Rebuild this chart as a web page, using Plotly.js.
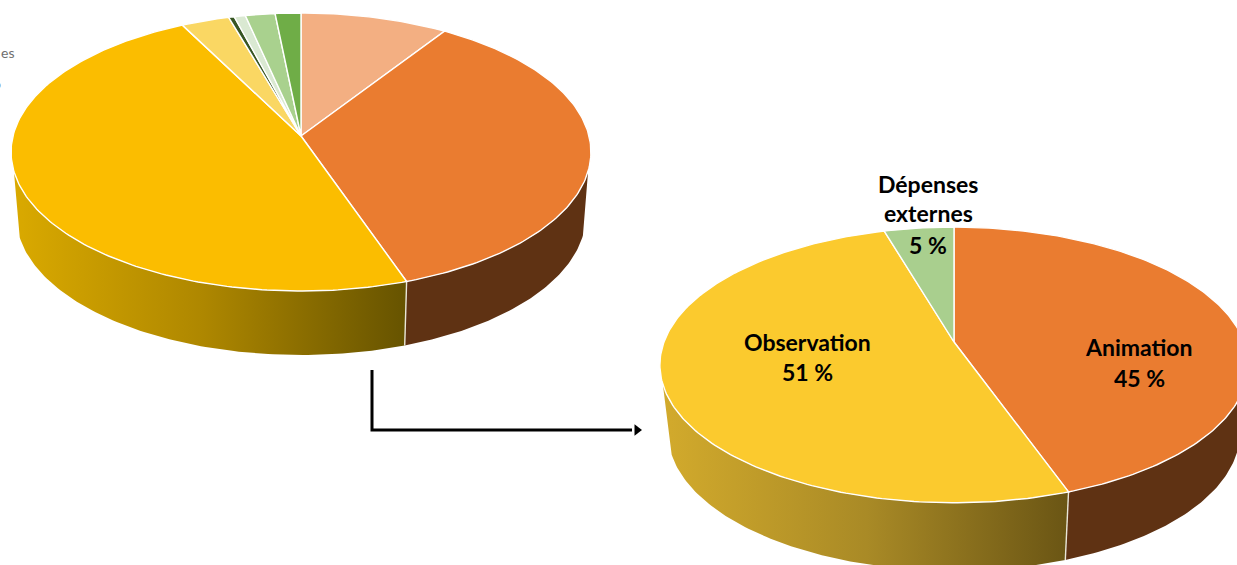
<!DOCTYPE html>
<html>
<head>
<meta charset="utf-8">
<script src="https://cdn.plot.ly/plotly-3.0.1.min.js"></script>
<style>html,body{margin:0;padding:0;background:#fff;overflow:hidden}#chart{width:1237px;height:565px}</style>
</head>
<body>
<div id="chart"></div>
<script>
// Values (percent), clockwise from 12 o'clock
var leftValues = [9.2, 35.5, 47.8, 3.0, 0.35, 0.7, 1.85, 1.6];
var leftColors = ['#F3AF82', '#EA7C30', '#FBBD00', '#FAD763', '#375623', '#DAE9D2', '#A9D18E', '#6FAD47'];
var rightNames = ['Animation', 'Observation', 'Dépenses'];
var rightValues = [44.6, 50.9, 4.5];
var rightColors = ['#EA7C30', '#FBCA2E', '#A9CF8E'];
var clippedLegendText = ['es', 'o'];

var sideOrange = '#5F3213';
var leftGeom = {cx: 301, ay: 136, A: 288, B: 137.2, k: 0.115, depth: 64, shrink: 0.982, from: 0,
  grad: [[0, '#DDAC00'], [0.5, '#AE8700'], [1, '#665300']], side: {1: 'orange', 2: 'grad'}, seamIndex: 1};
var rightGeom = {cx: 954, ay: 342, A: 290, B: 134, k: 0.1667, depth: 68, shrink: 0.972, from: 665,
  grad: [[0, '#D2AA2C'], [0.5, '#A98A26'], [1, '#6A5514']], side: {0: 'orange', 1: 'grad'}, seamIndex: 0};

function rim(g, pct) {
  var t = pct / 100 * 2 * Math.PI, X = Math.sin(t), Y = Math.cos(t), w = 1 + g.k * Y;
  return [g.cx + g.A * X / w, g.ay - g.B * Y / w];
}
function lower(g, p) { return [g.cx + (p[0] - g.cx) * g.shrink, p[1] + g.depth]; }
function arc(g, a, b) {
  var n = Math.max(2, Math.ceil((b - a) * 4)), pts = [];
  for (var i = 0; i <= n; i++) pts.push(rim(g, a + (b - a) * i / n));
  return pts;
}
// the part of the rim that has a visible side wall
function wallLimits(g) {
  var e = Math.acos(-g.k) / (2 * Math.PI) * 100 + 2.2;
  return [e, 100 - e];
}
var traces = [];
function addPie(values, colors, g) {
  var acc = 0, tops = [], sides = [], seam = [], lim = wallLimits(g);
  values.forEach(function (v, i) {
    var pts = arc(g, acc, acc + v);
    var topPoly = [[g.cx, g.ay]].concat(pts).concat([[g.cx, g.ay]]);
    tops.push({
      type: 'scatter', mode: 'lines', x: topPoly.map(function (p) { return p[0]; }), y: topPoly.map(function (p) { return p[1]; }),
      fill: 'toself', fillcolor: colors[i], line: {color: '#FFFFFF', width: 1.4}, hoverinfo: 'skip', showlegend: false
    });
    if (g.side[i]) {
      var a = Math.max(acc, lim[0]), b = Math.min(acc + v, lim[1]);
      var wallRim = arc(g, a, b);
      var bottom = wallRim.map(function (p) { return lower(g, p); }).reverse();
      var poly = wallRim.concat(bottom);
      poly.push(wallRim[0]);
      var tr = {
        type: 'scatter', mode: 'lines', x: poly.map(function (p) { return p[0]; }), y: poly.map(function (p) { return p[1]; }),
        fill: 'toself', line: {width: 0}, hoverinfo: 'skip', showlegend: false
      };
      if (g.side[i] === 'orange') tr.fillcolor = sideOrange;
      else tr.fillgradient = {type: 'horizontal', colorscale: g.grad, start: g.from, stop: rim(g, acc)[0]};
      sides.push(tr);
    }
    if (i === g.seamIndex) {
      var e = pts[pts.length - 1], f = lower(g, e);
      seam.push({type: 'scatter', mode: 'lines', x: [e[0], f[0]], y: [e[1], f[1]],
        line: {color: '#E9E6D8', width: 1.4}, hoverinfo: 'skip', showlegend: false});
    }
    acc += v;
  });
  traces = traces.concat(sides, seam, tops);
}
addPie(leftValues, leftColors, leftGeom);
addPie(rightValues, rightColors, rightGeom);

// Connector arrow
var arrowX = [372, 372, 632];
var arrowY = [370, 430, 430];
traces.push({type: 'scatter', mode: 'lines', x: arrowX, y: arrowY, line: {color: '#000', width: 3}, hoverinfo: 'skip', showlegend: false});
traces.push({type: 'scatter', mode: 'markers', x: [637], y: [430], marker: {symbol: 'triangle-right', size: 10, color: '#000'}, hoverinfo: 'skip', showlegend: false});

function lab(text, x, y) {
  return {text: '<b>' + text + '</b>', x: x, y: y, xref: 'x', yref: 'y', showarrow: false, xanchor: 'center', yanchor: 'middle',
    font: {family: 'Lato, sans-serif', size: 23, color: '#000'}};
}
function pct(v) { return Math.round(v) + ' %'; }
function small(text, x, y) {
  return {text: text, x: x, y: y, xref: 'x', yref: 'y', showarrow: false, xanchor: 'right', yanchor: 'middle',
    font: {family: 'Lato, sans-serif', size: 14, color: '#6F6F6F'}};
}
var annotations = [
  lab(rightNames[2], 928, 184),
  lab('externes', 928, 213),
  lab(pct(rightValues[2]), 928, 245),
  lab(rightNames[1], 807, 342),
  lab(pct(rightValues[1]), 807, 372),
  lab(rightNames[0], 1139, 347),
  lab(pct(rightValues[0]), 1139, 378),
  small(clippedLegendText[0], 16, 52),
  small(clippedLegendText[1], 3, 83)
];

Plotly.newPlot('chart', traces, {
  width: 1237, height: 565, margin: {l: 0, r: 0, t: 0, b: 0},
  paper_bgcolor: '#fff', plot_bgcolor: '#fff', showlegend: false,
  xaxis: {range: [0, 1237], visible: false, fixedrange: true},
  yaxis: {range: [565, 0], visible: false, fixedrange: true},
  annotations: annotations
}, {displayModeBar: false, staticPlot: true});
</script>
</body>
</html>
